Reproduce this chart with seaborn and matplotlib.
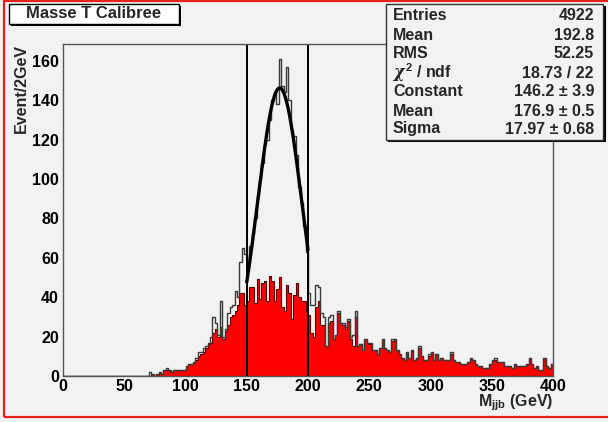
"""Masse T Calibree: M_jjb histogram with a Gaussian fit between 150 and 200 GeV."""

import matplotlib

matplotlib.use("Agg")
import matplotlib.pyplot as plt
import numpy as np
import pandas as pd
import seaborn as sns
from matplotlib.patches import Rectangle
from matplotlib.ticker import MultipleLocator

BG = "#f2f2f2"
FONT = ["Liberation Sans", "DejaVu Sans"]

# 2 GeV bins from 0 to 400 GeV
BIN_WIDTH = 2
X_RANGE = (0, 400)

# all jjb combinations (open histogram), one value per 2 GeV bin
TOTAL_COUNTS = [
    0, 0, 0, 0, 0, 0, 0, 0, 0, 0,            # 0-18
    0, 0, 0, 0, 0, 0, 0, 0, 0, 0,            # 20-38
    0, 0, 0, 0, 0, 0, 0, 0, 0, 0,            # 40-58
    0, 0, 0, 0, 0, 2, 1, 0, 1, 2,            # 60-78
    1, 3, 4, 3, 2, 3, 3, 3, 3, 3,            # 80-98
    5, 6, 6, 7, 9, 12, 12, 14, 15, 17,       # 100-118
    20, 30, 27, 21, 38, 20, 24, 32, 35, 36,  # 120-138
    43, 40, 58, 65, 62, 55, 66, 72, 80, 92,  # 140-158
    100, 108, 118, 120, 130, 140, 144, 138, 161, 147,  # 160-178
    144, 157, 140, 125, 122, 112, 96, 88, 76, 63,      # 180-198
    42, 36, 36, 46, 45, 32, 30, 15, 30, 31,  # 200-218
    19, 21, 33, 27, 27, 25, 29, 20, 21, 33,  # 220-238
    15, 16, 13, 19, 17, 17, 13, 13, 11, 14,  # 240-258
    19, 14, 13, 12, 19, 19, 13, 11, 9, 8,    # 260-278
    12, 9, 13, 8, 9, 15, 10, 8, 8, 11,       # 280-298
    12, 8, 11, 8, 9, 8, 8, 8, 12, 8,         # 300-318
    7, 7, 6, 6, 6, 7, 9, 8, 6, 5,            # 320-338
    5, 4, 4, 4, 6, 8, 9, 7, 7, 7,            # 340-358
    5, 5, 5, 4, 6, 5, 5, 5, 5, 6,            # 360-378
    9, 6, 4, 5, 3, 3, 9, 5, 4, 6,            # 380-398
]

# red filled histogram, same binning
RED_COUNTS = [
    0, 0, 0, 0, 0, 0, 0, 0, 0, 0,
    0, 0, 0, 0, 0, 0, 0, 0, 0, 0,
    0, 0, 0, 0, 0, 0, 0, 0, 0, 0,
    0, 0, 0, 0, 0, 0, 1, 0, 1, 2,
    1, 3, 3, 3, 2, 3, 3, 3, 3, 3,
    5, 6, 6, 7, 8, 10, 11, 12, 14, 16,
    17, 22, 24, 20, 25, 19, 23, 26, 30, 31,
    33, 36, 42, 42, 36, 38, 45, 45, 37, 49,
    39, 47, 48, 38, 51, 48, 38, 44, 50, 35,
    33, 46, 42, 29, 41, 47, 40, 38, 38, 33,
    31, 22, 20, 35, 38, 26, 26, 15, 27, 28,
    19, 21, 32, 27, 26, 24, 28, 19, 15, 30,
    15, 16, 13, 19, 17, 16, 13, 13, 11, 14,
    19, 14, 13, 12, 18, 19, 13, 11, 9, 8,
    12, 9, 13, 8, 9, 14, 10, 8, 8, 10,
    12, 8, 11, 8, 9, 8, 8, 8, 11, 8,
    7, 7, 6, 6, 6, 7, 9, 8, 6, 5,
    5, 4, 4, 4, 6, 8, 8, 7, 7, 7,
    5, 5, 5, 4, 6, 5, 5, 5, 5, 6,
    9, 6, 4, 5, 3, 3, 9, 5, 4, 6,
]

# fit window and Gaussian fit result (from the stats box)
FIT_RANGE = (150, 200)
FIT_CONSTANT = 146.2
FIT_MEAN = 176.9
FIT_SIGMA = 17.97

STATS_LABELS = ["Entries", "Mean", "RMS", r"$\chi^{2}$ / ndf", "Constant", "Mean", "Sigma"]
STATS_VALUES = ["4922", "192.8", "52.25", "18.73 / 22", "146.2 ± 3.9", "176.9 ± 0.5", "17.97 ± 0.68"]

TITLE = "Masse T Calibree"


def px_box(fig, x0, y0, x1, y1, **kw):
    """Rectangle given in pixel coords (origin top-left) of a 608x422 canvas."""
    w, h = 608, 422
    return Rectangle((x0 / w, 1 - y1 / h), (x1 - x0) / w, (y1 - y0) / h,
                     transform=fig.transFigure, **kw)


def draw_histograms(ax):
    centers = np.arange(X_RANGE[0], X_RANGE[1], BIN_WIDTH) + BIN_WIDTH / 2
    hist = pd.DataFrame({"mass": centers, "total": TOTAL_COUNTS, "red": RED_COUNTS})
    common = dict(data=hist, x="mass", binwidth=BIN_WIDTH, binrange=X_RANGE, element="step", ax=ax)
    sns.histplot(weights="total", fill=False, color="#3a3a3a", linewidth=1.0, **common)
    sns.histplot(weights="red", fill=True, color="#ff0000", alpha=1.0,
                 edgecolor="#5a0000", linewidth=0.8, **common)


def draw_fit(ax):
    xs = np.linspace(FIT_RANGE[0], FIT_RANGE[1], 200)
    ys = FIT_CONSTANT * np.exp(-0.5 * ((xs - FIT_MEAN) / FIT_SIGMA) ** 2)
    sns.lineplot(x=xs, y=ys, color="black", linewidth=2.4, ax=ax)
    for xv in FIT_RANGE:
        ax.axvline(xv, color="black", linewidth=1.4)


def style_axes(ax):
    ax.set_xlim(*X_RANGE)
    ax.set_ylim(0, 168.5)
    ax.set_facecolor(BG)
    ax.grid(False)
    for side in ["top", "right", "left", "bottom"]:
        ax.spines[side].set_color("#555555")
        ax.spines[side].set_linewidth(1.0)

    ax.xaxis.set_major_locator(MultipleLocator(50))
    ax.xaxis.set_minor_locator(MultipleLocator(10))
    ax.yaxis.set_major_locator(MultipleLocator(20))
    ax.yaxis.set_minor_locator(MultipleLocator(5))
    ax.tick_params(axis="x", which="major", direction="in", length=7.5, width=1, pad=2,
                   labelsize=11.5, colors="#555555", labelcolor="black")
    ax.tick_params(axis="x", which="minor", direction="in", length=3.5, width=1, colors="#555555")
    ax.tick_params(axis="y", which="major", direction="in", length=11, width=1, pad=3,
                   labelsize=11.5, colors="#555555", labelcolor="black")
    ax.tick_params(axis="y", which="minor", direction="in", length=6, width=1, colors="#555555")

    ax.set_xlabel(r"M$_{\bf jjb}$ (GeV)", fontsize=11.5, fontweight="bold", loc="right")
    ax.xaxis.set_label_coords(1.0, -0.05)
    ax.set_ylabel("Event/2GeV", fontsize=11.5, fontweight="bold", loc="top")
    ax.yaxis.set_label_coords(-0.069, 1.0)


def draw_boxes(fig):
    # title box with shadow
    fig.patches.append(px_box(fig, 11, 6, 181, 26, facecolor="black", edgecolor="none", zorder=1))
    fig.patches.append(px_box(fig, 9, 4, 179, 24, facecolor="white", edgecolor="black",
                              linewidth=1.0, zorder=2))
    fig.text((9 + 179) / 2 / 608, 1 - 14 / 422, TITLE, ha="center", va="center",
             fontsize=12, fontweight="bold", zorder=3)

    # stats box with shadow
    fig.patches.append(px_box(fig, 388, 6, 606, 142, facecolor="black", edgecolor="none", zorder=1))
    fig.patches.append(px_box(fig, 386, 4, 603, 140, facecolor=BG, edgecolor="#333333",
                              linewidth=1.0, zorder=2))
    row_y = [15, 35, 54, 73, 92, 111, 129]
    for y, label, value in zip(row_y, STATS_LABELS, STATS_VALUES):
        fig.text(393 / 608, 1 - y / 422, label, ha="left", va="center",
                 fontsize=11.5, fontweight="bold", zorder=3)
        fig.text(594 / 608, 1 - y / 422, value, ha="right", va="center",
                 fontsize=11.5, fontweight="bold", zorder=3)

    # red canvas frame (right edge runs off the canvas)
    fig.patches.append(px_box(fig, 4, 0.8, 612, 417, facecolor="none", edgecolor="#e8201c",
                              linewidth=1.6, zorder=4))


def main():
    sns.set_theme(style="white")
    plt.rcParams["font.family"] = FONT
    plt.rcParams["font.weight"] = "bold"
    plt.rcParams["mathtext.fontset"] = "custom"
    plt.rcParams["mathtext.rm"] = "Liberation Sans:bold"
    plt.rcParams["mathtext.bf"] = "Liberation Sans:bold"
    plt.rcParams["mathtext.it"] = "DejaVu Serif:italic"

    fig = plt.figure(figsize=(6.08, 4.22), dpi=100, facecolor=BG)
    ax = fig.add_axes([63 / 608, 1 - 376 / 422, 490 / 608, 332 / 422])

    draw_histograms(ax)
    draw_fit(ax)
    style_axes(ax)
    draw_boxes(fig)

    fig.savefig("out.png", dpi=100, facecolor=BG)
    plt.close(fig)


if __name__ == "__main__":
    main()
